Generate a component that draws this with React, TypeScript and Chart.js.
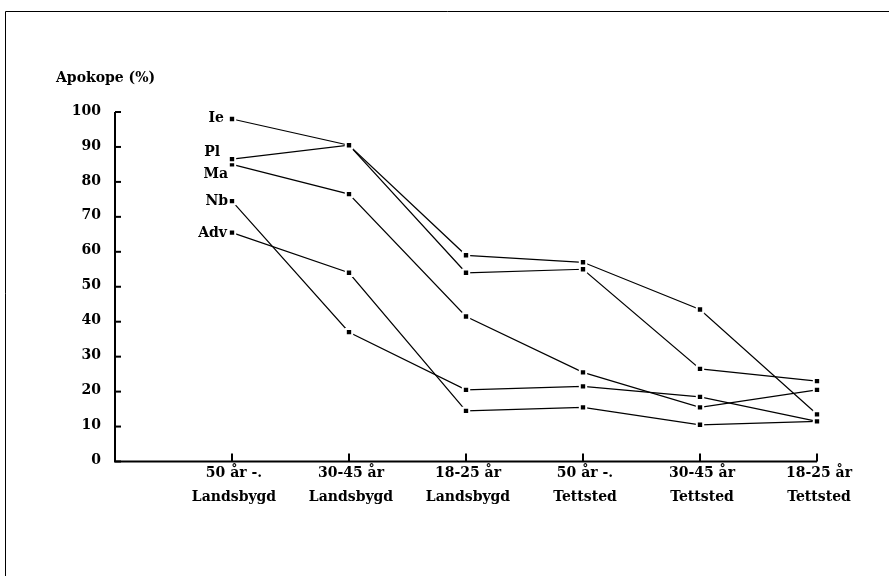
import React, { useEffect, useRef } from "react";
import { Chart, registerables } from "chart.js";

Chart.register(...registerables);

const categoriesLine1 = ["50 år -.", "30-45 år", "18-25 år", "50 år -.", "30-45 år", "18-25 år"];
const categoriesLine2 = ["Landsbygd", "Landsbygd", "Landsbygd", "Tettsted", "Tettsted", "Tettsted"];
const seriesNames = ["Ie", "Pl", "Ma", "Nb", "Adv"];
const ieValues = [98, 90.5, 59, 57, 43.5, 13.5];
const plValues = [86.5, 90.5, 54, 55, 26.5, 23];
const maValues = [85, 76.5, 41.5, 25.5, 15.5, 20.5];
const nbValues = [74.5, 37, 20.5, 21.5, 18.5, 11.5];
const advValues = [65.5, 54, 14.5, 15.5, 10.5, 11.5];
const yTicks = [0, 10, 20, 30, 40, 50, 60, 70, 80, 90, 100];
const axisTitle = "Apokope (%)";

const seriesValues = [ieValues, plValues, maValues, nbValues, advValues];
// label offsets (style only) relative to first point
const labelOffsets = [
  { dx: -8, dy: 2 },
  { dx: -12, dy: -4 },
  { dx: -4, dy: 13 },
  { dx: -4, dy: 3 },
  { dx: -5, dy: 4 },
];

const FONT = "bold 14px 'DejaVu Serif'";

const drawPlugin = {
  id: "customAxes",
  beforeDatasetsDraw(chart: any) {
    const ctx = chart.ctx;
    const xs = chart.scales.x;
    const ys = chart.scales.y;
    ctx.save();
    // frame
    ctx.strokeStyle = "#000";
    ctx.lineWidth = 1;
    ctx.beginPath();
    ctx.moveTo(5.5, 576);
    ctx.lineTo(5.5, 11.5);
    ctx.lineTo(889, 11.5);
    ctx.stroke();

    const x0 = xs.getPixelForValue(-1);
    const x1 = xs.getPixelForValue(categoriesLine1.length - 1);
    const y0 = ys.getPixelForValue(0);
    const y1 = ys.getPixelForValue(100);
    ctx.lineWidth = 2;
    ctx.beginPath();
    ctx.moveTo(x0, y1);
    ctx.lineTo(x0, y0);
    ctx.lineTo(x1, y0);
    ctx.stroke();
    // y ticks
    ctx.lineWidth = 2;
    yTicks.forEach((t) => {
      const y = ys.getPixelForValue(t);
      ctx.beginPath();
      ctx.moveTo(x0, y);
      ctx.lineTo(x0 + 6, y);
      ctx.stroke();
    });
    // x ticks
    categoriesLine1.forEach((_, i) => {
      const x = xs.getPixelForValue(i);
      ctx.beginPath();
      ctx.moveTo(x, y0);
      ctx.lineTo(x, y0 - 8);
      ctx.stroke();
    });
    ctx.restore();
  },
  afterDraw(chart: any) {
    const ctx = chart.ctx;
    const xs = chart.scales.x;
    const ys = chart.scales.y;
    const x0 = xs.getPixelForValue(-1);
    const y0 = ys.getPixelForValue(0);
    ctx.save();
    ctx.fillStyle = "#000";
    ctx.font = FONT;
    // y tick labels
    ctx.textAlign = "right";
    ctx.textBaseline = "middle";
    yTicks.forEach((t) => {
      ctx.fillText(String(t), x0 - 14, ys.getPixelForValue(t) - 1);
    });
    // axis title
    ctx.textAlign = "left";
    ctx.textBaseline = "alphabetic";
    ctx.fillText(axisTitle, 56, 82);
    // x labels
    ctx.textAlign = "center";
    categoriesLine1.forEach((c, i) => {
      const x = xs.getPixelForValue(i) + 2;
      ctx.fillText(c, x, y0 + 15);
      ctx.fillText(categoriesLine2[i], x, y0 + 39);
    });
    // series names
    ctx.textAlign = "right";
    ctx.textBaseline = "middle";
    seriesNames.forEach((n, i) => {
      const px = xs.getPixelForValue(0);
      const py = ys.getPixelForValue(seriesValues[i][0]);
      ctx.fillText(n, px + labelOffsets[i].dx, py + labelOffsets[i].dy - 3);
    });
    ctx.restore();
  },
};

export default function App() {
  const ref = useRef<HTMLCanvasElement>(null);
  useEffect(() => {
    document.body.style.margin = "0";
    const canvas = ref.current!;
    const chart = new Chart(canvas, {
      type: "line",
      data: {
        datasets: seriesNames.map((n, i) => ({
          label: n,
          data: seriesValues[i].map((v, j) => ({ x: j, y: v })),
          borderColor: "#000",
          borderWidth: 1.2,
          backgroundColor: "#000",
          pointStyle: "rect",
          pointRadius: 4.5,
          pointBorderColor: "#fff",
          pointBorderWidth: 2,
          pointBackgroundColor: "#000",
          tension: 0,
          fill: false,
          clip: false as any,
        })),
      },
      options: {
        animation: false,
        responsive: false,
        devicePixelRatio: 1,
        layout: { padding: { left: 115, right: 72, top: 112, bottom: 114.5 } },
        plugins: { legend: { display: false }, tooltip: { enabled: false }, title: { display: false } },
        scales: {
          x: { type: "linear", min: -1, max: 5, display: false },
          y: { type: "linear", min: 0, max: 100, display: false },
        },
      },
      plugins: [drawPlugin],
    });
    return () => chart.destroy();
  }, []);
  return (
    <div style={{ position: "absolute", left: 0, top: 0, width: 889, height: 576, background: "#fff" }}>
      <canvas ref={ref} width={889} height={576} style={{ display: "block" }} />
    </div>
  );
}
